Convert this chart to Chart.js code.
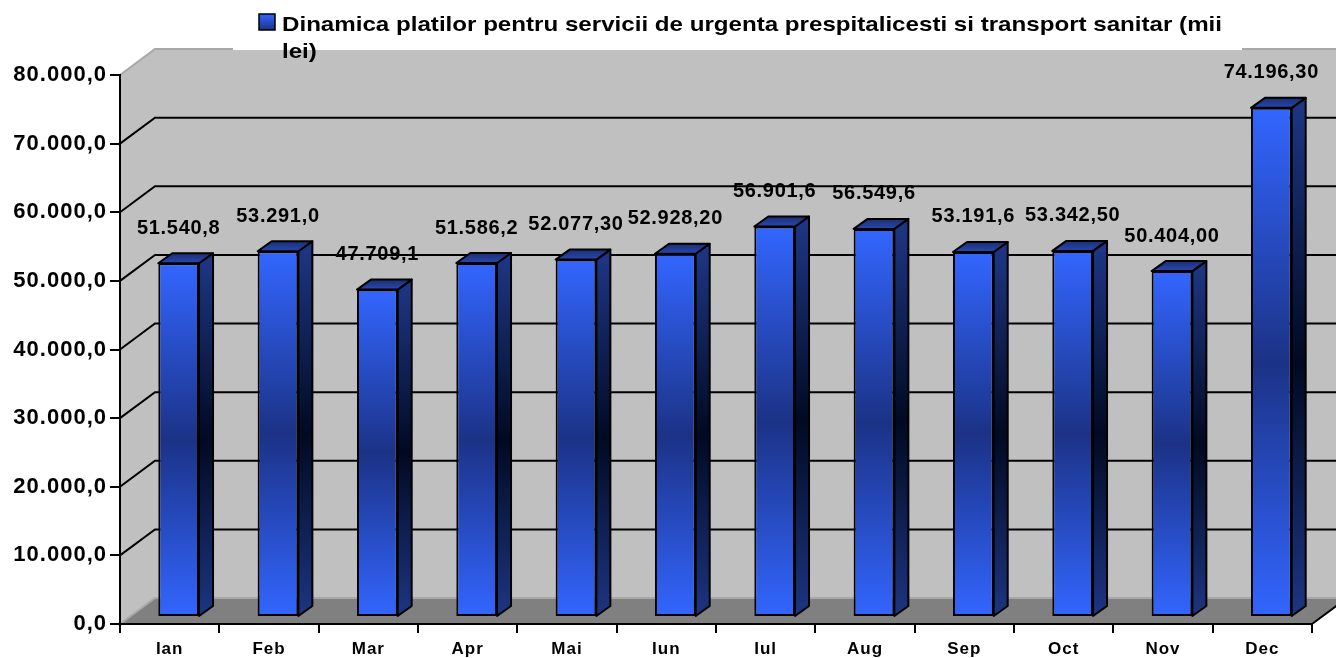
<!DOCTYPE html>
<html>
<head>
<meta charset="utf-8">
<script src="https://cdn.jsdelivr.net/npm/chart.js@4.4.1/dist/chart.umd.min.js"></script>
<style>
  html, body { margin: 0; padding: 0; background: #fff; }
  canvas { display: block; }
</style>
</head>
<body>
<canvas id="myChart" width="1336" height="658"></canvas>
<script>
// data
const months = ["Ian", "Feb", "Mar", "Apr", "Mai", "Iun", "Iul", "Aug", "Sep", "Oct", "Nov", "Dec"];
const payments = [51540.8, 53291.0, 47709.1, 51586.2, 52077.3, 52928.2, 56901.6, 56549.6, 53191.6, 53342.5, 50404.0, 74196.3];
const paymentLabels = ["51.540,8", "53.291,0", "47.709,1", "51.586,2", "52.077,30", "52.928,20",
  "56.901,6", "56.549,6", "53.191,6", "53.342,50", "50.404,00", "74.196,30"];
const seriesName = "Dinamica platilor pentru servicii de urgenta prespitalicesti si transport sanitar (mii lei)";
const yMin = 0;
const yMax = 80000;
const yStep = 10000;

// fake 3d depth (pixels)
const WALL_DX = 35, WALL_DY = 26;
const BAR_DX = 9, BAR_DY = 7;
const SIDE_DX = 14, SIDE_DY = 10;
const FONT = "'Liberation Sans', Arial, Helvetica, sans-serif";

function formatTick(v) {
  const whole = Math.round(v).toString().replace(/\B(?=(\d{3})+(?!\d))/g, ".");
  return whole + ",0";
}

function frontGradient(ctx, top, bottom) {
  const g = ctx.createLinearGradient(0, top, 0, bottom);
  g.addColorStop(0, "#3366ff");
  g.addColorStop(0.5, "#1b3286");
  g.addColorStop(1, "#3366ff");
  return g;
}

function sideGradient(ctx, top, bottom) {
  const g = ctx.createLinearGradient(0, top, 0, bottom);
  g.addColorStop(0, "#1d3582");
  g.addColorStop(0.5, "#010a22");
  g.addColorStop(1, "#1d3582");
  return g;
}

const wallsPlugin = {
  id: "walls",
  beforeDraw(chart) {
    const ctx = chart.ctx;
    const {left, right, top, bottom} = chart.chartArea;
    const w = chart.width;
    const yScale = chart.scales.y;

    ctx.save();
    ctx.fillStyle = "#fff";
    ctx.fillRect(0, 0, chart.width, chart.height);

    // back wall + side wall
    ctx.fillStyle = "#c0c0c0";
    ctx.fillRect(left + WALL_DX, top - WALL_DY, w - left - WALL_DX, bottom - top);
    ctx.beginPath();
    ctx.moveTo(left, top);
    ctx.lineTo(left + WALL_DX, top - WALL_DY);
    ctx.lineTo(left + WALL_DX, bottom - WALL_DY);
    ctx.lineTo(left, bottom);
    ctx.closePath();
    ctx.fill();

    // floor
    ctx.fillStyle = "#808080";
    ctx.beginPath();
    ctx.moveTo(left, bottom);
    ctx.lineTo(left + WALL_DX, bottom - WALL_DY);
    ctx.lineTo(right + WALL_DX, bottom - WALL_DY);
    ctx.lineTo(right, bottom);
    ctx.closePath();
    ctx.fill();

    // grid lines on the walls
    for (let v = yMin; v <= yMax; v += yStep) {
      const y = yScale.getPixelForValue(v);
      const edge = (v === yMin || v === yMax);
      ctx.strokeStyle = edge ? "#a8a8a8" : "#000";
      ctx.lineWidth = 2;
      ctx.beginPath();
      ctx.moveTo(left, y);
      ctx.lineTo(left + WALL_DX, y - WALL_DY);
      ctx.lineTo(v === yMin ? right + WALL_DX : w, y - WALL_DY);
      ctx.stroke();
    }

    // right edge of the floor
    ctx.strokeStyle = "#000";
    ctx.beginPath();
    ctx.moveTo(right, bottom);
    ctx.lineTo(right + WALL_DX, bottom - WALL_DY);
    ctx.stroke();

    // legend box (white) with its text
    ctx.fillStyle = "#fff";
    ctx.fillRect(233, 0, 1242 - 233, 50);

    ctx.fillStyle = frontGradient(ctx, 14, 46);
    ctx.fillRect(259, 14, 16, 16);
    ctx.strokeStyle = "#000";
    ctx.lineWidth = 1.5;
    ctx.strokeRect(259, 14, 16, 16);

    ctx.fillStyle = "#000";
    ctx.font = "bold 21px " + FONT;
    ctx.textBaseline = "alphabetic";
    ctx.textAlign = "left";
    const words = seriesName.split(" ");
    const line1 = words.slice(0, -1).join(" ");
    const line2 = words[words.length - 1];
    const target = 940;
    const sx = target / ctx.measureText(line1).width;
    ctx.save();
    ctx.translate(282, 31);
    ctx.scale(sx, 1);
    ctx.fillText(line1, 0, 0);
    ctx.fillText(line2, 0, 27);
    ctx.restore();

    ctx.restore();
    // the original text is a bit wider than Arial, spread the tick labels slightly
    ctx.letterSpacing = "1px";
  },
  beforeDatasetsDraw(chart) {
    const ctx = chart.ctx;
    ctx.letterSpacing = "0px";
    ctx.save();
    ctx.translate(BAR_DX, -BAR_DY);
    // side and top faces of each bar
    chart.getDatasetMeta(0).data.forEach(bar => {
      const {x, y, base, width} = bar.getProps(["x", "y", "base", "width"], true);
      const l = x - width / 2, r = x + width / 2;
      ctx.lineWidth = 2;
      ctx.strokeStyle = "#000";
      ctx.lineJoin = "round";

      ctx.fillStyle = sideGradient(ctx, y, base);
      ctx.beginPath();
      ctx.moveTo(r, y);
      ctx.lineTo(r + SIDE_DX, y - SIDE_DY);
      ctx.lineTo(r + SIDE_DX, base - SIDE_DY);
      ctx.lineTo(r, base);
      ctx.closePath();
      ctx.fill();
      ctx.stroke();

      const tg = ctx.createLinearGradient(0, y - SIDE_DY, 0, y);
      tg.addColorStop(0, "#1a2f72");
      tg.addColorStop(1, "#2a48b0");
      ctx.fillStyle = tg;
      ctx.beginPath();
      ctx.moveTo(l, y);
      ctx.lineTo(l + SIDE_DX, y - SIDE_DY);
      ctx.lineTo(r + SIDE_DX, y - SIDE_DY);
      ctx.lineTo(r, y);
      ctx.closePath();
      ctx.fill();
      ctx.stroke();
    });
  },
  afterDatasetsDraw(chart) {
    const ctx = chart.ctx;
    ctx.restore();

    // value labels above the bars
    ctx.save();
    ctx.fillStyle = "#000";
    ctx.font = "bold 20px " + FONT;
    ctx.letterSpacing = "0.7px";
    ctx.textAlign = "center";
    ctx.textBaseline = "middle";
    chart.getDatasetMeta(0).data.forEach((bar, i) => {
      const {x, y} = bar.getProps(["x", "y"], true);
      ctx.fillText(paymentLabels[i], x + BAR_DX, y - BAR_DY - 35);
    });
    ctx.restore();
  }
};

const chartCtx = document.getElementById("myChart");

new Chart(chartCtx, {
  type: "bar",
  data: {
    labels: months,
    datasets: [
      {
        label: seriesName,
        data: payments,
        backgroundColor: (c) => {
          const chart = c.chart;
          if (!chart.chartArea || c.type !== "data") return "#3366ff";
          const y = chart.scales.y;
          return frontGradient(chart.ctx, y.getPixelForValue(c.raw), y.getPixelForValue(0));
        },
        borderColor: "#000",
        borderWidth: 2,
        borderSkipped: false,
        categoryPercentage: 1,
        barPercentage: 0.41,
        clip: false
      }
    ]
  },
  plugins: [wallsPlugin],
  options: {
    responsive: false,
    animation: false,
    devicePixelRatio: 1,
    layout: {
      padding: {top: 75, right: 24, left: 0, bottom: 0}
    },
    plugins: {
      legend: {display: false},
      tooltip: {enabled: false}
    },
    scales: {
      x: {
        offset: true,
        grid: {
          offset: true,
          drawOnChartArea: false,
          tickLength: 9,
          color: "#000",
          lineWidth: 2
        },
        border: {display: true, color: "#000", width: 2},
        ticks: {
          color: "#000",
          padding: 6,
          maxRotation: 0,
          font: {family: FONT, size: 17, weight: "bold"}
        },
        afterFit(scale) { scale.height = 34; }
      },
      y: {
        min: yMin,
        max: yMax,
        grid: {
          drawOnChartArea: false,
          tickLength: 10,
          color: "#000",
          lineWidth: 2
        },
        border: {display: true, color: "#000", width: 2},
        ticks: {
          stepSize: yStep,
          color: "#000",
          padding: 3,
          font: {family: FONT, size: 22, weight: "bold"},
          callback: (v) => formatTick(v)
        },
        afterFit(scale) { scale.width = 120; }
      }
    }
  }
});
</script>
</body>
</html>
